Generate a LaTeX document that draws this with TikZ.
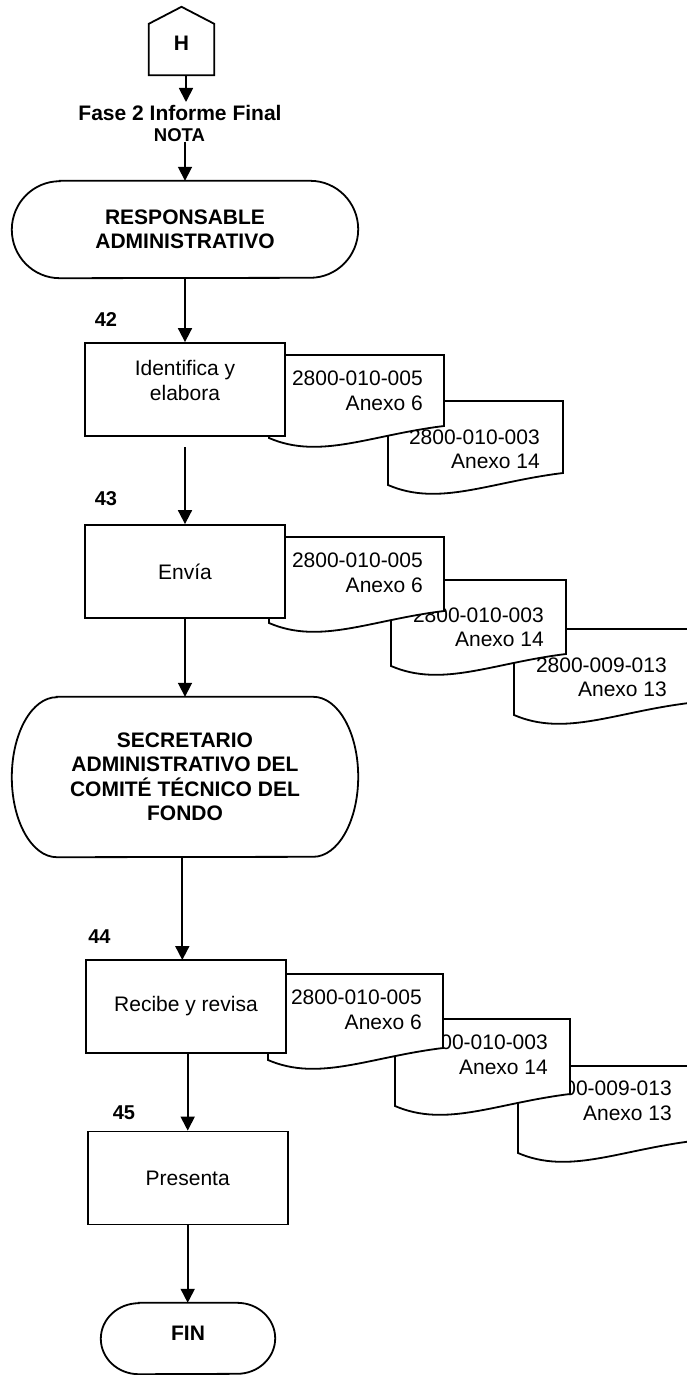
\documentclass[tikz,border=0pt]{standalone}
\usepackage{fontspec}
\setmainfont{Liberation Sans}
\usetikzlibrary{arrows.meta,calc}

% document symbol: left x, top y, height (left side); fixed width 175
\newcommand\docshape[3]{%
  \filldraw[ln,fill=white] (#1,#2) -- ({#1+175},#2) -- ({#1+175},{#2+#3-12})
    .. controls ({#1+101},{#2+#3-3}) and ({#1+51},{#2+#3+22}) .. (#1,{#2+#3}) -- cycle;}

% terminator outline around a named node: node, x radius, y radius
\newcommand\termoutline[3]{%
  \draw[ln] ([xshift=#2]#1.north west) -- ([xshift=-#2]#1.north east)
    arc[start angle=90, end angle=-90, x radius=#2, y radius=#3]
    -- ([xshift=#2]#1.south west)
    arc[start angle=270, end angle=90, x radius=#2, y radius=#3] -- cycle;}

\tikzset{
  ln/.style={line width=1.8pt, line join=miter},
  flow/.style={ln, -{Triangle[length=14pt,width=14pt]}},
  txt/.style={inner sep=0pt, font=\fontsize{21}{24.5}\selectfont},
  btxt/.style={inner sep=0pt, font=\bfseries\fontsize{21}{24.5}\selectfont},
  numlbl/.style={inner sep=0pt, font=\bfseries\fontsize{20}{24}\selectfont},
  procbox/.style={draw, ln, fill=white, minimum width=200pt, minimum height=93pt,
    inner sep=0pt, align=center, font=\fontsize{21}{24.5}\selectfont},
  termnode/.style={inner sep=0pt, align=center, font=\bfseries\fontsize{21}{24.5}\selectfont},
  doctxt/.style={txt, align=right, anchor=east},
}

\begin{document}
\begin{tikzpicture}[x=1pt, y=-1pt]
\clip (0,0) rectangle (687,1375);
\fill[white] (0,0) rectangle (687,1375);

% off-page connector H
\node[btxt, minimum width=65pt, minimum height=68pt] (h) at (181.5,41)
  {\raisebox{-2pt}[\height][\depth]{H}};
\draw[ln] (h.south west) -- (h.south east) -- ([yshift=-17pt]h.north east)
  -- (h.north) -- ([yshift=-17pt]h.north west) -- cycle;

\node[btxt] (fase) at (180,113) {Fase 2 Informe Final};
\node[inner sep=0pt, font=\bfseries\fontsize{18.5}{22}\selectfont] (nota) at (179.5,135) {NOTA};

% first actor
\node[termnode, minimum width=346pt, minimum height=97pt] (t1) at (185,229.5)
  {RESPONSABLE\\ADMINISTRATIVO};
\termoutline{t1}{48pt}{48.5pt}

% step 42 documents
\docshape{388}{401}{84}
\node[doctxt] (d42b) at (540,449.5) {2800-010-003\\Anexo 14};
\docshape{269}{355}{83}
\node[doctxt] (d42a) at (423,391) {2800-010-005\\Anexo 6};

% step 43 documents
\docshape{514}{629}{86}
\node[doctxt] (d43c) at (667,677.5) {2800-009-013\\Anexo 13};
\docshape{391}{580}{86}
\node[doctxt] (d43b) at (544,627.5) {2800-010-003\\Anexo 14};
\docshape{269}{537}{86}
\node[doctxt] (d43a) at (423,573) {2800-010-005\\Anexo 6};

% step 44 documents
\docshape{518}{1066}{87}
\node[doctxt] (d44c) at (672,1101) {2800-009-013\\Anexo 13};
\docshape{395}{1019}{87}
\node[doctxt] (d44b) at (548,1055) {2800-010-003\\Anexo 14};
\docshape{268}{974}{86}
\node[doctxt] (d44a) at (422,1009.6) {2800-010-005\\Anexo 6};

% process boxes
\node[procbox] (b42) at (185,389.5) {};
\node[txt, align=center] (b42t) at (185,380.5) {Identifica y\\elabora};
\node[procbox] (b43) at (185,571.5) {Envía};
\node[procbox] (b44) at (186,1006.5) {Recibe y revisa};
\node[procbox] (b45) at (187.7,1178) {Presenta};

\node[numlbl] (n42) at (106,319.5) {42};
\node[numlbl] (n43) at (106,499) {43};
\node[numlbl] (n44) at (99.5,936.7) {44};
\node[numlbl] (n45) at (124,1112.3) {45};

% second actor
\node[termnode, minimum width=346pt, minimum height=160pt] (t2) at (185,777)
  {SECRETARIO\\ADMINISTRATIVO DEL\\COMITÉ TÉCNICO DEL\\FONDO};
\termoutline{t2}{45pt}{80pt}

% end
\node[termnode, minimum width=174pt, minimum height=71pt] (fin) at (188,1338.5)
  {\raisebox{5pt}[\height][\depth]{FIN}};
\termoutline{fin}{38pt}{35.5pt}

% connectors
\coordinate (faseTop) at (186,102);
\coordinate (g42) at (185,447);
\coordinate (in44) at (182.3,960);
\draw[flow] (h.south -| faseTop) -- (faseTop);
\draw[flow] (t1.north |- nota.south) -- (t1.north);
\draw[flow] (t1.south) -- (b42.north);
\draw[flow] (g42) -- (b43.north);
\draw[flow] (b43.south) -- (t2.north);
\draw[flow] (t2.south -| in44) -- (in44);
\draw[flow] (b44.south -| b45.north) -- (b45.north);
\draw[flow] (b45.south) -- (b45.south |- fin.north);
\end{tikzpicture}
\end{document}
